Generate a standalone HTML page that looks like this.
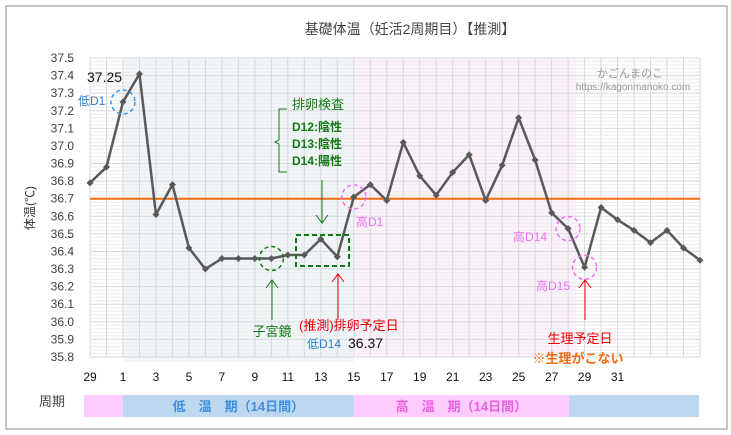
<!DOCTYPE html>
<html><head><meta charset="utf-8"><style>
body{margin:0;background:#fff;}
svg{display:block;font-family:"Liberation Sans","Noto Sans CJK JP",sans-serif;}
</style></head><body>
<svg id="chart" width="731" height="435" viewBox="0 0 731 435" xmlns="http://www.w3.org/2000/svg">
<rect x="0" y="0" width="731" height="435" fill="#fff"/>
<rect x="6" y="6" width="721" height="423" fill="#fff" stroke="#8c8c8c" stroke-width="1"/>
<text x="410" y="34" font-size="14" fill="#444" text-anchor="middle">基礎体温（妊活2周期目）【推測】</text>
<g id="bg"></g>
<g id="grid"></g>
<g id="ylabels" font-size="12" fill="#404040" text-anchor="end"></g>
<g id="xlabels" font-size="12" fill="#111" text-anchor="middle"></g>
<text transform="translate(34,208) rotate(-90)" font-size="12" fill="#333" text-anchor="middle">体温(℃)</text>
<text x="630" y="77" font-size="11" fill="#999" text-anchor="middle">かごんまのこ</text>
<text x="633" y="90" font-size="10" fill="#999" text-anchor="middle">https://kagonmanoko.com</text>
<line id="coverline" stroke="#f26b0f" stroke-width="2"/>
<g id="series"></g>
<g id="annot" font-size="12"></g>
<text x="52" y="406" font-size="13" fill="#444" text-anchor="middle">周期</text>
<g id="cycle"></g>
</svg>
<script>
const days=[29,30,1,2,3,4,5,6,7,8,9,10,11,12,13,14,15,16,17,18,19,20,21,22,23,24,25,26,27,28,29,30,31,32,33,34,35,36];
const temps=[36.79,36.88,37.25,37.41,36.61,36.78,36.42,36.30,36.36,36.36,36.36,36.36,36.38,36.38,36.47,36.37,36.71,36.78,36.69,37.02,36.83,36.72,36.85,36.95,36.69,36.89,37.16,36.92,36.62,36.53,36.31,36.65,36.58,36.52,36.45,36.52,36.42,36.35];
const yTicks=[35.8,35.9,36.0,36.1,36.2,36.3,36.4,36.5,36.6,36.7,36.8,36.9,37.0,37.1,37.2,37.3,37.4,37.5];
const xTickIdx=[0,2,4,6,8,10,12,14,16,18,20,22,24,26,28,30,32];
const coverTemp=36.7;
const lowStart=2, highStart=16, highEnd=29.5;

const NS="http://www.w3.org/2000/svg";
const X0=90,X1=700,Y0=58,Y1=357,YMIN=35.8,YMAX=37.5;
const xs=i=>X0+i*(X1-X0)/(days.length-1);
const ys=v=>Y0+(YMAX-v)*(Y1-Y0)/(YMAX-YMIN);
function mk(tag,attrs,parent,text){const e=document.createElementNS(NS,tag);for(const k in attrs)e.setAttribute(k,attrs[k]);if(text!==undefined)e.textContent=text;document.getElementById(parent).appendChild(e);return e;}

let e=mk('rect',{x:xs(lowStart),y:Y0,width:xs(highStart)-xs(lowStart),height:Y1-Y0+5,fill:'#f1f6f9'},'bg');


e=mk('rect',{x:xs(highStart),y:Y0,width:xs(highEnd)-xs(highStart),height:Y1-Y0,fill:'#fdf2fb'},'bg');


for(let v=0;v<=85;v++){const t=YMIN+v*0.02;const y=ys(t);
 e=mk('line',{x1:X0,x2:X1,y1:y,y2:y,stroke:v%5===0?'#d8d8de':'#ececf0','stroke-width':1},'grid');
 
 }
for(let i=0;i<days.length;i++){
 e=mk('line',{x1:xs(i),x2:xs(i),y1:Y0,y2:Y1,stroke:'#d8d8de','stroke-width':1},'grid');
 
 }
yTicks.forEach(t=>{e=mk('text',{x:74,y:ys(t)+4},'ylabels',t.toFixed(1));
 
 });
xTickIdx.forEach(i=>{e=mk('text',{x:xs(i),y:381},'xlabels',String(days[i]));
 
 });
const cl=document.getElementById('coverline');
cl.setAttribute('x1',X0);cl.setAttribute('x2',X1);cl.setAttribute('y1',ys(coverTemp));cl.setAttribute('y2',ys(coverTemp));
const pts=temps.map((v,i)=>xs(i)+','+ys(v)).join(' ');
e=mk('polyline',{points:pts,fill:'none',stroke:'#595959','stroke-width':2.5,'stroke-linejoin':'round'},'series');


temps.forEach((v,i)=>{const x=xs(i),y=ys(v);
 e=mk('path',{d:`M${x-3.5},${y}L${x},${y-3.5}L${x+3.5},${y}L${x},${y+3.5}Z`,fill:'#595959'},'series');
 
 });
function circ(i,c,name){e=mk('circle',{cx:xs(i),cy:ys(temps[i]),r:12,fill:'none',stroke:c,'stroke-width':1.5,'stroke-dasharray':'4,3'},'annot');
 
 }
function txt(x,y,s,c,name,extra){e=mk('text',Object.assign({x:x,y:y,fill:c},extra||{}),'annot',s);
 
 }
function arrow(x,y1,y2,c,name){e=mk('path',{d:`M${x},${y2}L${x},${y1}M${x-6},${y1+(y2>y1?8:-8)}L${x},${y1}L${x+6},${y1+(y2>y1?8:-8)}`,fill:'none',stroke:c,'stroke-width':1},'annot');
 
 }
circ(2,'#3399ee','low-d1-circle');circ(11,'#127a12','hysteroscopy-circle');circ(16,'#f070f0','high-d1-circle');circ(29,'#f070f0','high-d14-circle');circ(30,'#f070f0','high-d15-circle');
txt(87,82,'37.25','#111','label-37-25',{'font-size':14});
txt(78,105,'低D1','#2a7fd0','label-low-d1');
txt(356,226,'高D1','#f070f0','label-high-d1');
txt(513,241,'高D14','#f070f0','label-high-d14');
txt(536,290,'高D15','#f070f0','label-high-d15');
e=mk('rect',{x:296,y:235,width:53,height:31,fill:'none',stroke:'#127a12','stroke-width':2,'stroke-dasharray':'5,3'},'annot');


txt(292,109,'排卵検査','#127a12','label-ovulation-test',{'font-size':13});
txt(292,131,'D12:陰性','#127a12','label-d12',{'font-weight':'bold'});
txt(292,148,'D13:陰性','#127a12','label-d13',{'font-weight':'bold'});
txt(292,165,'D14:陽性','#127a12','label-d14',{'font-weight':'bold'});
e=mk('path',{d:'M287,109L279,109L279,140L275,142L279,144L279,172L287,172',fill:'none',stroke:'#127a12','stroke-width':1},'annot');


arrow(322,223,180,'#127a12','ovulation-test-arrow');
arrow(272,280,320,'#127a12','hysteroscopy-arrow');
arrow(338,274,320,'#e00','ovulation-date-arrow');
arrow(585,280,320,'#e00','period-date-arrow');
txt(272,336,'子宮鏡','#127a12','label-hysteroscopy',{'font-size':13,'text-anchor':'middle'});
txt(299,330,'(推測)排卵予定日','#e00','label-ovulation-date',{'font-size':13});
txt(307,348,'低D14','#2a7fd0','label-low-d14');
txt(348,348,'36.37','#111','label-36-37',{'font-size':14});
txt(580,343,'生理予定日','#e00','label-period-date',{'font-size':13,'text-anchor':'middle'});
txt(578,363,'※生理がこない','#f26b0f','label-no-period',{'font-size':13,'font-weight':'bold','text-anchor':'middle'});
const segs=[[84,xs(lowStart),'#ffccff','',''],[xs(lowStart),xs(highStart),'#bdd7ee','低　温　期（14日間）','#3d8fe0'],[xs(highStart),569,'#ffccff','高　温　期（14日間）','#e860e0'],[569,699,'#bdd7ee','','']];
segs.forEach((s,k)=>{e=mk('rect',{x:s[0],y:395,width:s[1]-s[0],height:22,fill:s[2]},'cycle');
 
 
 if(s[3]){e=mk('text',{x:(s[0]+s[1])/2,y:411,fill:s[4],'font-size':13,'font-weight':'bold','text-anchor':'middle'},'cycle',s[3]);
 
 }});
</script>
</body></html>
